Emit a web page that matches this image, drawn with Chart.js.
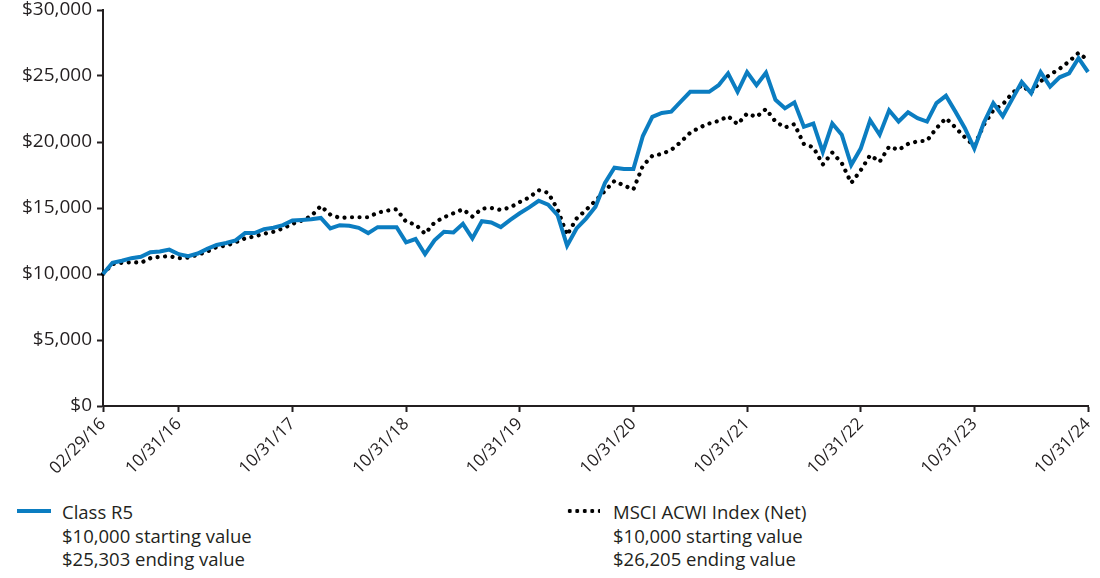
<!DOCTYPE html>
<html>
<head>
<meta charset="utf-8">
<script src="https://cdn.jsdelivr.net/npm/chart.js@4.4.1/dist/chart.umd.min.js"></script>
<style>
  body { margin: 0; background: #fff; font-family: "Open Sans", sans-serif; color: #231f20; }
  #wrap { position: relative; width: 1100px; height: 578px; }
  #chartBox { position: absolute; left: 0; top: 0; width: 1100px; height: 480px; }
  .leg { position: absolute; font-size: 18.5px; line-height: 23.5px; }
  .swatch { position: absolute; width: 34px; }
</style>
</head>
<body>
<div id="wrap">
  <div id="chartBox"><canvas id="grafico"></canvas></div>
  <div class="swatch" style="left:17px; top:509px; height:4px; background:#0b7dc1;"></div>
  <div class="leg" style="left:62px; top:500px;">Class R5<br>$10,000 starting value<br>$25,303 ending value</div>
  <div class="swatch" style="left:566px; top:509px; height:4px; background-image:radial-gradient(circle, #000 1.9px, transparent 2.3px); background-size:7.5px 4px;"></div>
  <div class="leg" style="left:613px; top:500px;">MSCI ACWI Index (Net)<br>$10,000 starting value<br>$26,205 ending value</div>
</div>
<script>
// month-end values, 02/29/16 .. 10/31/24
const classR5 = [
  10000, 10850, 11000, 11200, 11300, 11650, 11700, 11850, 11500, 11350, 11550, 11900,
  12200, 12350, 12550, 13100, 13100, 13400, 13500, 13700, 14050, 14100, 14150, 14250,
  13450, 13700, 13650, 13500, 13100, 13550, 13550, 13550, 12400, 12650, 11500, 12550,
  13200, 13150, 13800, 12700, 14000, 13900, 13550, 14100, 14600, 15050, 15550, 15250,
  14450, 12150, 13450, 14200, 15100, 16900, 18050, 17950, 17950, 20450, 21900, 22200,
  22300, 23050, 23800, 23800, 23800, 24300, 25200, 23800, 25300, 24300, 25250, 23200,
  22550, 23000, 21150, 21400, 19250, 21400, 20550, 18250, 19500, 21650, 20550, 22400,
  21550, 22250, 21800, 21550, 22950, 23500, 22300, 21050, 19500, 21450, 22950, 21950,
  23250, 24550, 23700, 25300, 24200, 24900, 25200, 26350, 25303
];
const msciAcwi = [
  10000, 10750, 10850, 10900, 10850, 11200, 11300, 11350, 11200, 11250, 11450, 11700,
  12050, 12150, 12400, 12700, 12850, 13050, 13200, 13450, 13800, 14050, 14400, 15150,
  14500, 14250, 14300, 14300, 14300, 14650, 14800, 14900, 13950, 13750, 13050, 13900,
  14300, 14600, 14900, 14350, 14950, 15000, 14850, 15050, 15450, 15800, 16350, 16150,
  14900, 12950, 14200, 14850, 15550, 16300, 17050, 16700, 16400, 18200, 18950, 19100,
  19400, 20000, 20700, 21100, 21400, 21600, 21950, 21350, 22150, 21900, 22500, 21550,
  21100, 21350, 19850, 19600, 18300, 19200, 18400, 16900, 17850, 19000, 18500, 19650,
  19400, 19850, 20050, 20100, 21050, 21800, 21100, 20350, 19700, 21300, 22400, 22850,
  23700, 24300, 23750, 24600, 25100, 25550, 26100, 26750, 26205
];
const tickLabels = ["02/29/16", "10/31/16", "10/31/17", "10/31/18", "10/31/19",
  "10/31/20", "10/31/21", "10/31/22", "10/31/23", "10/31/24"];
const yTicks = [0, 5000, 10000, 15000, 20000, 25000, 30000];

// month-end date labels for the category axis
const meses = [];
for (let i = 0; i < classR5.length; i++) {
  const m = (1 + i) % 12;
  const y = 2016 + Math.floor((1 + i) / 12);
  const d = new Date(y, m + 1, 0).getDate();
  meses.push(String(m + 1).padStart(2, "0") + "/" + String(d).padStart(2, "0") + "/" + String(y).slice(2));
}

const texto = "#231f20";

new Chart(document.getElementById("grafico"), {
  type: "line",
  data: {
    labels: meses,
    datasets: [
      {
        label: "Class R5",
        data: classR5,
        borderColor: "#0b7dc1",
        borderWidth: 4,
        borderJoinStyle: "miter",
        pointRadius: 0,
        tension: 0,
        order: 0
      },
      {
        label: "MSCI ACWI Index (Net)",
        data: msciAcwi,
        borderColor: "#000",
        borderWidth: 4.2,
        borderCapStyle: "round",
        borderDash: [0.01, 7.5],
        pointRadius: 0,
        tension: 0,
        order: 1
      }
    ]
  },
  options: {
    responsive: true,
    maintainAspectRatio: false,
    animation: false,
    layout: { padding: { top: 0, right: 12, left: 0, bottom: 0 } },
    plugins: { legend: { display: false }, tooltip: { enabled: false } },
    scales: {
      x: {
        type: "category",
        offset: false,
        afterBuildTicks: scale => {
          scale.ticks = scale.ticks.filter(t => tickLabels.includes(meses[t.value]));
        },
        afterFit: scale => {
          scale.height = 74;
          scale.paddingLeft = 0;
          scale.paddingRight = 0;
        },
        grid: { drawOnChartArea: false, drawTicks: true, tickLength: 6, color: texto, tickWidth: 2 },
        border: { color: texto, width: 2 },
        ticks: {
          autoSkip: false,
          minRotation: 45,
          maxRotation: 45,
          padding: 2,
          color: texto,
          font: { family: "'Open Sans', sans-serif", size: 17 },
          callback: function (value) { return meses[value]; }
        }
      },
      y: {
        min: 0,
        max: 30000,
        afterBuildTicks: scale => { scale.ticks = yTicks.map(v => ({ value: v })); },
        afterFit: scale => {
          scale.width = 103;
          scale.paddingTop = 10;
          scale.paddingBottom = 0;
        },
        grid: { drawOnChartArea: false, drawTicks: true, tickLength: 6, color: texto, tickWidth: 2 },
        border: { color: texto, width: 2 },
        ticks: {
          padding: 5,
          color: texto,
          font: { family: "'Open Sans', sans-serif", size: 19 },
          callback: v => "$" + v.toLocaleString("en-US")
        }
      }
    }
  }
});
</script>
</body>
</html>
